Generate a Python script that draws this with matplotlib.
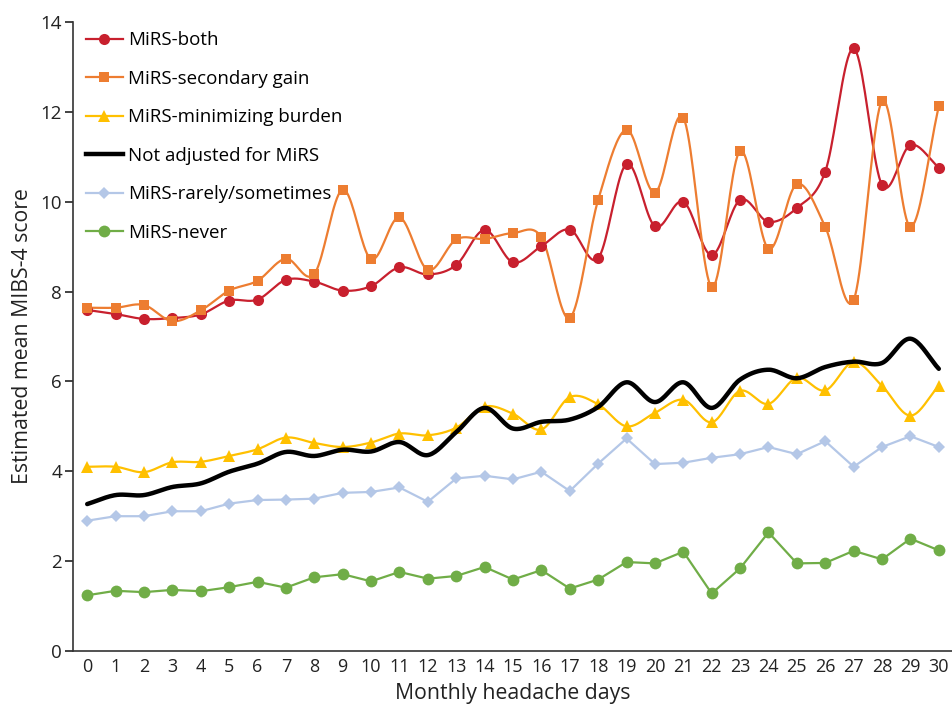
import numpy as np
import matplotlib
matplotlib.use("Agg")
import matplotlib.pyplot as plt
from matplotlib.lines import Line2D

plt.rcParams['font.family'] = ['Open Sans', 'DejaVu Sans']

days = list(range(0, 31))

mirs_both = [7.59, 7.50, 7.39, 7.41, 7.49, 7.80, 7.82, 8.26, 8.22, 8.02, 8.12,
             8.54, 8.38, 8.59, 9.37, 8.65, 9.01, 9.38, 8.74, 10.84, 9.45,
             10.00, 8.81, 10.04, 9.55, 9.86, 10.67, 13.41, 10.37, 11.26, 10.76]
mirs_secondary = [7.64, 7.64, 7.70, 7.34, 7.58, 8.02, 8.24, 8.73, 8.39, 10.27, 8.72,
                  9.65, 8.48, 9.16, 9.17, 9.30, 9.21, 7.41, 10.04, 11.60, 10.20,
                  11.87, 8.10, 11.13, 8.95, 10.39, 9.44, 7.81, 12.24, 9.44, 12.12]
mirs_minimizing = [4.10, 4.10, 3.98, 4.20, 4.21, 4.34, 4.49, 4.75, 4.63, 4.54, 4.64,
                   4.84, 4.80, 4.97, 5.44, 5.28, 4.93, 5.65, 5.49, 5.00, 5.30,
                   5.59, 5.09, 5.79, 5.50, 6.08, 5.80, 6.43, 5.90, 5.24, 5.90]
not_adjusted = [3.27, 3.47, 3.47, 3.65, 3.73, 3.99, 4.17, 4.43, 4.34, 4.48, 4.44,
                4.65, 4.36, 4.87, 5.41, 4.95, 5.10, 5.15, 5.43, 5.98, 5.54,
                5.98, 5.41, 6.04, 6.26, 6.07, 6.32, 6.44, 6.41, 6.95, 6.28]
mirs_rarely = [2.90, 3.00, 3.00, 3.11, 3.11, 3.28, 3.36, 3.37, 3.39, 3.52, 3.54,
               3.64, 3.32, 3.84, 3.90, 3.82, 3.99, 3.56, 4.17, 4.73, 4.16,
               4.19, 4.30, 4.38, 4.54, 4.38, 4.67, 4.10, 4.54, 4.78, 4.54]
mirs_never = [1.24, 1.34, 1.31, 1.36, 1.33, 1.42, 1.54, 1.41, 1.64, 1.71, 1.55,
              1.76, 1.61, 1.67, 1.87, 1.59, 1.80, 1.39, 1.59, 1.98, 1.95,
              2.21, 1.28, 1.84, 2.64, 1.95, 1.96, 2.23, 2.04, 2.50, 2.24]

y_ticks = [0, 2, 4, 6, 8, 10, 12, 14]


def smooth(x, y, n=20):
    """Catmull-Rom curve through the points (spreadsheet-style smoothed line)."""
    x = np.asarray(x, float)
    y = np.asarray(y, float)
    px = np.concatenate([[2 * x[0] - x[1]], x, [2 * x[-1] - x[-2]]])
    py = np.concatenate([[2 * y[0] - y[1]], y, [2 * y[-1] - y[-2]]])
    xs, ys = [], []
    t = np.linspace(0, 1, n, endpoint=False)
    for i in range(1, len(px) - 2):
        for P, out in ((px, xs), (py, ys)):
            p0, p1, p2, p3 = P[i - 1], P[i], P[i + 1], P[i + 2]
            out.append(0.5 * ((2 * p1) + (-p0 + p2) * t
                              + (2 * p0 - 5 * p1 + 4 * p2 - p3) * t ** 2
                              + (-p0 + 3 * p1 - 3 * p2 + p3) * t ** 3))
    xs.append([x[-1]])
    ys.append([y[-1]])
    return np.concatenate(xs), np.concatenate(ys)


fig = plt.figure(figsize=(9.53, 7.07), dpi=100)
ax = fig.add_axes([0.0766, 0.0792, 0.9234, 0.8898])

series = [
    ("MiRS-both", mirs_both, "#C8202E", "o", 8, True),
    ("MiRS-secondary gain", mirs_secondary, "#ED7D31", "s", 7.5, True),
    ("MiRS-minimizing burden", mirs_minimizing, "#FFC000", "^", 8.5, True),
    ("Not adjusted for MiRS", not_adjusted, "#000000", None, 0, True),
    ("MiRS-rarely/sometimes", mirs_rarely, "#B4C7E7", "D", 6.5, False),
    ("MiRS-never", mirs_never, "#70AD47", "o", 8.5, False),
]

handles = []
for label, vals, color, marker, ms, is_smooth in series:
    lw = 3.2 if marker is None else 1.6
    if is_smooth:
        sx, sy = smooth(days, vals)
    else:
        sx, sy = days, vals
    z = 3 if marker is None else 2
    ax.plot(sx, sy, color=color, lw=lw, solid_capstyle='round', zorder=z)
    if marker is not None:
        ax.plot(days, vals, linestyle='none', marker=marker, ms=ms,
                color=color, markeredgewidth=0, zorder=z + 1)
    handles.append(Line2D([0], [0], color=color, lw=lw, marker=marker,
                          ms=ms if marker else 0, markeredgewidth=0,
                          label=label))

ax.set_xlim(-0.5, 30.5)
ax.set_ylim(0, 14)
ax.set_xticks(days)
ax.set_xticklabels([str(d) for d in days], fontsize=13)
ax.set_yticks(y_ticks)
ax.set_yticklabels([str(v) for v in y_ticks], fontsize=13.5)
ax.tick_params(axis='x', length=0, pad=5, colors='#222222')
ax.tick_params(axis='y', length=6, width=1.2, direction='out', pad=2,
               colors='#222222')
for side in ('top', 'right'):
    ax.spines[side].set_visible(False)
for side in ('left', 'bottom'):
    ax.spines[side].set_linewidth(1.2)
    ax.spines[side].set_color('#333333')

ax.set_xlabel("Monthly headache days", fontsize=15.3, color='#222222',
              labelpad=5)
ax.set_ylabel("Estimated mean MIBS-4 score", fontsize=15.3, color='#222222',
              labelpad=5)

ax.legend(handles=handles, loc='upper left', frameon=False, fontsize=13.5,
          handlelength=1.95, handletextpad=0.28, labelspacing=1.09,
          borderpad=0.0, borderaxespad=0.0, bbox_to_anchor=(0.0148, 0.985))

fig.savefig("out.png", dpi=100)
